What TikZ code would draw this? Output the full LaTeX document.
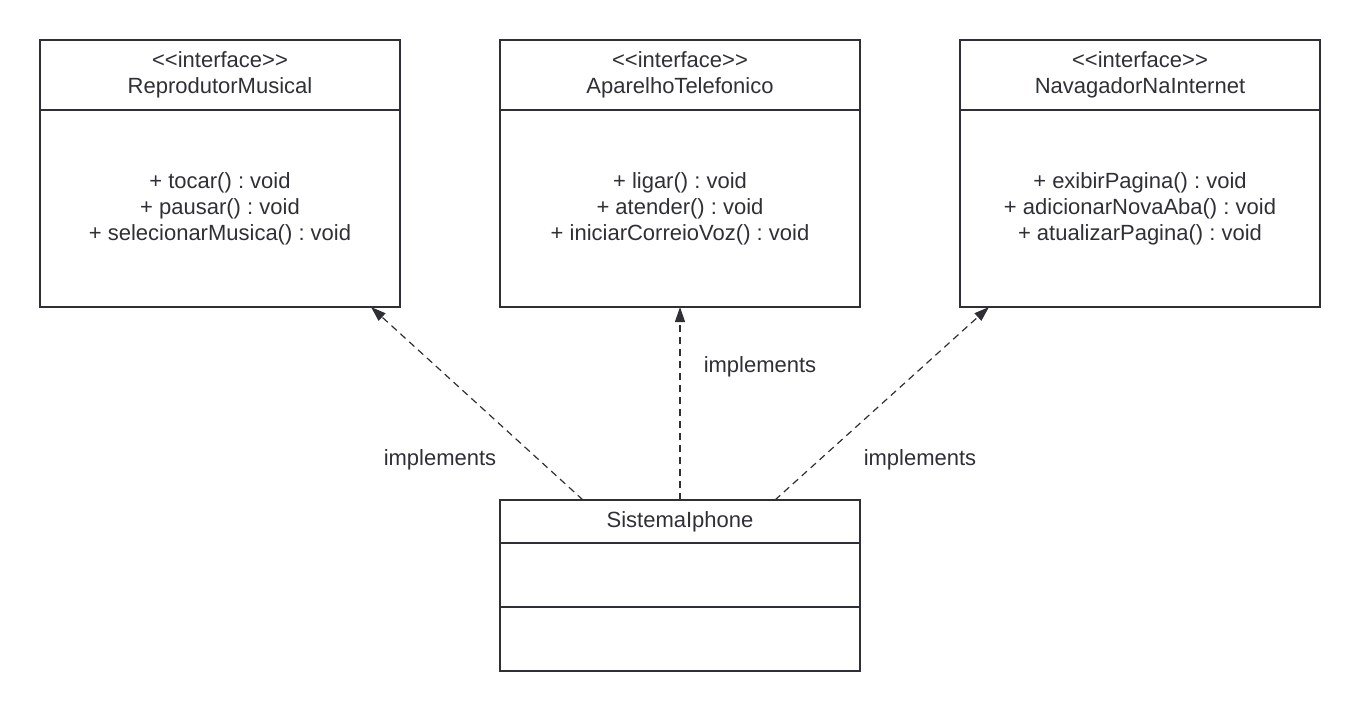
\documentclass[tikz,border=0pt]{standalone}
\usepackage{fontspec}
\setmainfont{Liberation Sans}
\usetikzlibrary{arrows.meta,positioning}
\definecolor{umlink}{HTML}{2E3036}
\newcommand\stereo{\textless\kern0pt\textless interface\textgreater\kern0pt\textgreater}
\frenchspacing

\begin{document}
\begin{tikzpicture}[x=1pt, y=-1pt, node distance=0pt,
    font=\fontsize{22}{26}\selectfont, text=umlink,
    head/.style={rectangle, draw=umlink, line width=2pt, outer sep=0pt, inner sep=0pt, align=center, minimum width=360pt, minimum height=70pt},
    body/.style={rectangle, draw=umlink, line width=2pt, outer sep=0pt, inner sep=0pt, align=center, minimum width=360pt, minimum height=197pt},
    part/.style={rectangle, draw=umlink, line width=2pt, outer sep=0pt, inner sep=0pt, minimum width=360pt, minimum height=64pt},
    realize/.style={-{Triangle[length=15pt,width=10pt]}, draw=umlink, line width=1.2pt, dash pattern=on 7pt off 5pt}]
    \useasboundingbox (0,0) rectangle (1360,712);

    \node (RepHead) [head, anchor=north west] at (40,40) {\stereo\\ReprodutorMusical};
    \node (RepBody) [body, below=of RepHead] {+ tocar() : void\\+ pausar() : void\\+ selecionarMusica() : void};

    \node (TelHead) [head, right=100pt of RepHead] {\stereo\\AparelhoTelefonico};
    \node (TelBody) [body, below=of TelHead] {+ ligar() : void\\+ atender() : void\\+ iniciarCorreioVoz() : void};

    \node (NavHead) [head, right=100pt of TelHead] {\stereo\\NavagadorNaInternet};
    \node (NavBody) [body, below=of NavHead] {+ exibirPagina() : void\\+ adicionarNovaAba() : void\\+ atualizarPagina() : void};

    \node (SisHead) [part, minimum height=43pt, below=193pt of TelBody] {SistemaIphone};
    \node (SisAttr) [part, below=of SisHead] {};
    \node (SisOps) [part, below=of SisAttr] {};

    \draw[realize] ([xshift=83pt]SisHead.north west) -- ([xshift=331pt]RepBody.south west);
    \draw[realize] (SisHead.north) -- (TelBody.south);
    \draw[realize] ([xshift=275pt]SisHead.north west) -- ([xshift=29pt]NavBody.south west);

    \node (ImplRep) at (440,460) {implements};
    \node (ImplTel) at (760,367) {implements};
    \node (ImplNav) at (920,460) {implements};
\end{tikzpicture}
\end{document}
